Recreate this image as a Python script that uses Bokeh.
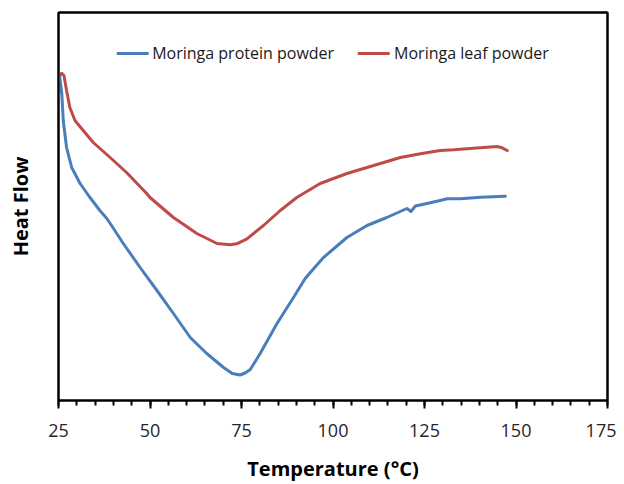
from bokeh.plotting import figure
from bokeh.models import FixedTicker, Range1d, Legend, LegendItem, LinearAxis
from bokeh.embed import file_html
from bokeh.resources import INLINE

# Temperature (°C) and heat flow (arbitrary units)
protein_T = [25.2, 25.9, 26.3, 27.2, 28.6, 30.9, 33.6, 36.3, 38.2, 39.5, 42.7, 47.3,
             51.9, 56.4, 61.0, 65.5, 70.1, 72.5, 74.6, 76.0, 77.4, 80.1, 84.7, 89.2,
             92.4, 93.8, 97.4, 103.8, 109.3, 114.7, 120.2, 121.3, 122.5, 125.7,
             129.3, 131.2, 134.8, 140.3, 147.1]
protein_HF = [327, 307, 280, 253, 233, 217, 203, 190, 182, 175, 157, 133,
              110, 87, 63, 47, 33, 27, 25.5, 27.5, 31, 47, 77, 103,
              122, 128, 143, 163, 175, 183, 192, 189, 194.5, 197,
              200, 201.7, 201.7, 203.3, 204.3]

leaf_T = [25.7, 25.9, 26.5, 27.2, 28.1, 29.5, 31.3, 34.5, 39.1, 43.6, 49.1, 50.0,
          56.4, 62.8, 68.3, 71.9, 73.7, 76.5, 81.0, 85.6, 90.1, 96.5, 103.8,
          111.1, 118.4, 123.9, 129.3, 133.0, 136.6, 142.1, 144.8, 146.2, 147.6]
leaf_HF = [326, 327.3, 325, 310, 293, 280, 272, 258, 243, 228, 207, 203,
           183, 167, 157, 155.7, 156.7, 161.7, 175, 190, 203, 217, 227,
           235, 243, 246.7, 250, 250.7, 251.7, 253.3, 254, 252.7, 250]

x_ticks = [25, 50, 75, 100, 125, 150, 175]
x_minor = list(range(25, 176, 5))

BLUE = "#4a7ebb"
RED = "#be4b48"
FONT = "Open Sans"

p = figure(width=616, height=484, output_backend="svg", toolbar_location=None,
           x_range=Range1d(25, 175), y_range=Range1d(0, 388),
           min_border_left=58, min_border_right=9, min_border_top=12,
           min_border_bottom=84)
p.background_fill_color = "white"
p.border_fill_color = "white"
p.xgrid.visible = False
p.ygrid.visible = False
p.outline_line_color = "black"
p.outline_line_width = 2

r1 = p.line(protein_T, protein_HF, line_color=BLUE, line_width=3,
            line_join="round", line_cap="round")
r2 = p.line(leaf_T, leaf_HF, line_color=RED, line_width=3,
            line_join="round", line_cap="round")

xa = p.xaxis[0]
xa.ticker = FixedTicker(ticks=x_ticks, minor_ticks=x_minor)
xa.axis_line_color = "black"
xa.axis_line_width = 2
xa.major_tick_line_width = 2
xa.major_tick_out = 8
xa.major_tick_in = 0
xa.minor_tick_line_width = 2
xa.minor_tick_out = 5
xa.minor_tick_in = 0
xa.major_label_text_font = FONT
xa.major_label_text_font_size = "18px"
xa.major_label_text_color = "#262626"
xa.major_label_standoff = 15
xa.axis_label = "Temperature (°C)"
xa.axis_label_text_font = FONT
xa.axis_label_text_font_style = "bold"
xa.axis_label_text_font_size = "20px"
xa.axis_label_text_color = "black"
xa.axis_label_standoff = 15

ya = p.yaxis[0]
ya.ticker = FixedTicker(ticks=[])
ya.axis_line_color = "black"
ya.axis_line_width = 2
ya.major_tick_line_color = None
ya.minor_tick_line_color = None
ya.axis_label = "Heat Flow"
ya.axis_label_text_font = FONT
ya.axis_label_text_font_style = "bold"
ya.axis_label_text_font_size = "20px"
ya.axis_label_text_color = "black"
ya.axis_label_standoff = 25

for side in ("above", "right"):
    ax = LinearAxis(ticker=FixedTicker(ticks=[]), axis_line_color="black",
                    axis_line_width=2, major_tick_line_color=None,
                    minor_tick_line_color=None, major_label_text_font_size="0px")
    p.add_layout(ax, side)

legend = Legend(items=[LegendItem(label="Moringa protein powder", renderers=[r1]),
                       LegendItem(label="Moringa leaf powder", renderers=[r2])],
                orientation="horizontal", location="top_center")
legend.border_line_color = None
legend.background_fill_alpha = 0
legend.margin = 30
legend.padding = 2
legend.spacing = 24
legend.glyph_width = 32
legend.label_standoff = 4
legend.label_text_font = FONT
legend.label_text_font_size = "16px"
legend.label_text_color = "#1a1a1a"
p.add_layout(legend, "center")

open("out.html", "w").write(file_html(p, INLINE))
